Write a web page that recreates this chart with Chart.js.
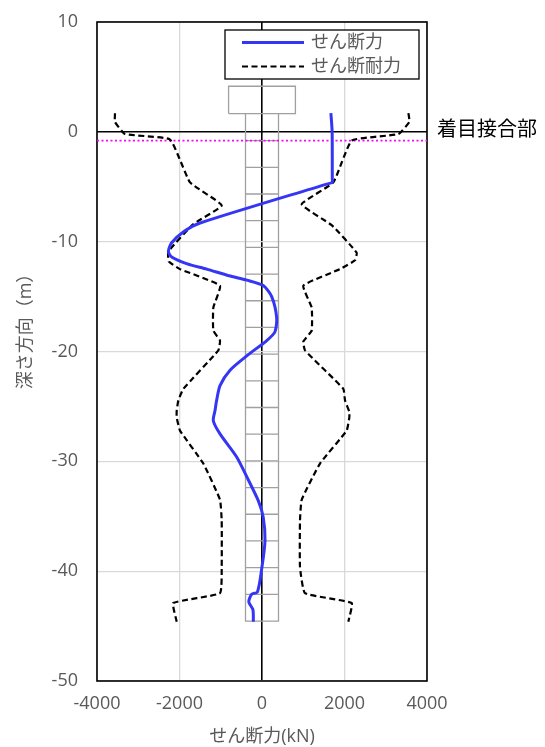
<!DOCTYPE html>
<html>
<head>
<meta charset="utf-8">
<script src="https://cdn.jsdelivr.net/npm/chart.js@4.4.1/dist/chart.umd.min.js"></script>
<style>
  html, body { margin: 0; padding: 0; background: #fff; }
  #wrap { width: 545px; height: 747px; position: relative; }
</style>
</head>
<body>
<div id="wrap"><canvas id="c"></canvas></div>
<script>
// Axis ranges
const xMin = -4000, xMax = 4000, xStep = 2000;
const yMin = -50, yMax = 10, yStep = 10;

// Shear force along the pile (kN) at each depth (m)
const shearDepth = [1.7, 0.0, -4.3, -4.6, -4.78, -8.3, -9.1, -10.1, -10.9, -11.4, -12.0, -12.5, -13.1, -13.5, -14.0,
  -15.0, -16.9, -18.2, -19.0, -20.4, -21.7, -23.1, -24.45, -25.4, -26.3, -27.5, -29.6, -31.4, -33.6,
  -35.1, -37.2, -39.6, -41.9, -42.1, -42.8, -43.5, -44.6];
const shearForce = [1670, 1700, 1704, 1705, 1550, -1500, -1900, -2190, -2270, -2190, -1830, -1340, -800, -370, 30,
  235, 355, 315, 115, -370, -775, -1018, -1100, -1140, -1180, -1018, -614, -370, -88,
  30, 73, 0, -110, -250, -320, -220, -210];

// Shear capacity envelope, negative side
const capLeftDepth = [1.7, 0.9, -0.2, -0.7, -4.6, -6.7, -8.4, -10.9, -11.8, -12.5, -14.0, -16.0, -18.1,
  -19.0, -19.9, -23.4, -24.45, -25.4, -26.0, -27.2, -30.2, -33.5, -35.4, -39.6, -42.0, -42.9, -44.6];
const capLeft = [-3564, -3564, -3321, -2230, -1745, -977, -1665, -2270, -2260, -1988, -1018, -1180, -1180,
  -1018, -1059, -1907, -2028, -2068, -2068, -1988, -1422, -1018, -977, -977, -1018, -2150, -2068];

// Shear capacity envelope, positive side
const capRightDepth = [1.7, 0.9, -0.2, -0.8, -4.6, -6.6, -8.5, -11.0, -11.7, -12.5, -14.0, -16.0, -18.1,
  -19.1, -19.9, -23.4, -24.45, -25.5, -26.0, -27.2, -30.2, -33.5, -35.4, -39.6, -42.0, -42.9, -44.6];
const capRight = [3550, 3572, 3305, 2174, 1730, 962, 1690, 2295, 2255, 1890, 1002, 1204, 1204,
  1002, 1042, 1972, 2012, 2117, 2117, 2053, 1406, 962, 921, 921, 1042, 2174, 2093];

// Pile schematic (kN-width / depth in m)
const pileHalfWidth = 400;
const pileHead = 1.66;
const pileTip = -44.55;
const pileJointDepths = [-0.8, -3.23, -5.66, -8.09, -10.52, -12.95, -15.38, -17.81, -20.24, -22.67,
  -25.1, -27.53, -29.96, -32.39, -34.82, -37.25, -39.68, -42.11];
const capHalfWidth = 810;
const capTopDepth = 4.15;

// Joint of interest
const focusDepth = -0.8;
const focusLabel = '着目接合部';

const seriesLabels = ['せん断力', 'せん断耐力'];
const xTitle = 'せん断力(kN)';
const yTitle = '深さ方向（m）';

const zip = (xs, ys) => xs.map((x, i) => ({ x: x, y: ys[i] }));
const GAP = { x: null, y: null };

// pile outline built as one broken polyline
const pileData = [];
pileData.push({ x: -pileHalfWidth, y: pileHead }, { x: -pileHalfWidth, y: pileTip },
  { x: pileHalfWidth, y: pileTip }, { x: pileHalfWidth, y: pileHead }, GAP);
pileJointDepths.forEach(d => pileData.push({ x: -pileHalfWidth, y: d }, { x: pileHalfWidth, y: d }, GAP));
pileData.push({ x: -capHalfWidth, y: pileHead }, { x: capHalfWidth, y: pileHead },
  { x: capHalfWidth, y: capTopDepth }, { x: -capHalfWidth, y: capTopDepth }, { x: -capHalfWidth, y: pileHead });

const FONT = "'Open Sans', 'Noto Sans CJK JP', sans-serif";
const GREY = '#595959';

const frame = {
  id: 'frame',
  beforeDatasetsDraw(chart) {
    const { ctx, chartArea: a } = chart;
    ctx.save();
    ctx.strokeStyle = '#000';
    ctx.lineWidth = 1.6;
    ctx.strokeRect(a.left, a.top, a.right - a.left, a.bottom - a.top);
    ctx.restore();
  }
};

const decorations = {
  id: 'decorations',
  afterDraw(chart) {
    const { ctx, chartArea: a, scales } = chart;
    ctx.save();
    // axis titles
    ctx.fillStyle = GREY;
    ctx.font = '18px ' + FONT;
    ctx.textAlign = 'center';
    ctx.textBaseline = 'middle';
    ctx.fillText(xTitle, scales.x.getPixelForValue(0), 737);
    ctx.save();
    ctx.translate(26, 327);
    ctx.rotate(-Math.PI / 2);
    ctx.fillText(yTitle, 0, 0);
    ctx.restore();

    // label for the joint of interest
    ctx.fillStyle = '#000';
    ctx.font = '20px ' + FONT;
    ctx.textAlign = 'left';
    ctx.fillText(focusLabel, a.right + 10, scales.y.getPixelForValue(0) - 2);

    // legend box
    const bx = 225, by = 30, bw = 194, bh = 49;
    ctx.fillStyle = '#fff';
    ctx.fillRect(bx, by, bw, bh);
    ctx.strokeStyle = '#000';
    ctx.lineWidth = 1.3;
    ctx.strokeRect(bx, by, bw, bh);
    const rows = [chart.data.datasets[0], chart.data.datasets[1]];
    rows.forEach((ds, i) => {
      const yy = by + 12.5 + i * 24;
      ctx.beginPath();
      ctx.strokeStyle = ds.borderColor;
      ctx.lineWidth = ds.borderWidth;
      ctx.setLineDash(ds.borderDash || []);
      ctx.moveTo(242, yy);
      ctx.lineTo(304, yy);
      ctx.stroke();
      ctx.setLineDash([]);
      ctx.fillStyle = GREY;
      ctx.font = '18px ' + FONT;
      ctx.textAlign = 'left';
      ctx.fillText(ds.label, 311, yy);
    });
    ctx.restore();
  }
};

const plainNumber = v => String(v);

new Chart(document.getElementById('c'), {
  type: 'scatter',
  data: {
    datasets: [
      {
        label: seriesLabels[0],
        data: zip(shearForce, shearDepth),
        showLine: true, borderColor: '#3535f5', borderWidth: 3, pointRadius: 0,
        tension: 0.25, order: 1
      },
      {
        label: seriesLabels[1],
        data: zip(capLeft, capLeftDepth),
        showLine: true, borderColor: '#000', borderWidth: 2.2, borderDash: [6, 3.5],
        pointRadius: 0, tension: 0.12, order: 2
      },
      {
        label: seriesLabels[1],
        data: zip(capRight, capRightDepth),
        showLine: true, borderColor: '#000', borderWidth: 2.2, borderDash: [6, 3.5],
        pointRadius: 0, tension: 0.12, order: 2
      },
      {
        label: 'pile',
        data: pileData,
        showLine: true, spanGaps: false, borderColor: '#a0a0a0', borderWidth: 1.3,
        pointRadius: 0, tension: 0, order: 4
      },
      {
        label: focusLabel,
        data: [{ x: xMin, y: focusDepth }, { x: xMax, y: focusDepth }],
        showLine: true, borderColor: '#ff00ff', borderWidth: 1.8, borderDash: [2, 2.5],
        pointRadius: 0, order: 3
      }
    ]
  },
  options: {
    responsive: true,
    maintainAspectRatio: false,
    animation: false,
    layout: { padding: { top: 22, right: 118, left: 0, bottom: 0 } },
    plugins: { legend: { display: false }, tooltip: { enabled: false } },
    scales: {
      x: {
        type: 'linear', min: xMin, max: xMax,
        afterFit: s => { s.height = 66; s.paddingLeft = 0; s.paddingRight = 0; },
        ticks: { stepSize: xStep, color: GREY, font: { family: FONT, size: 18 }, padding: 12, maxRotation: 0, callback: plainNumber },
        grid: {
          drawTicks: false,
          color: c => c.tick && c.tick.value === 0 ? '#000' : '#d9d9d9',
          lineWidth: c => c.tick && c.tick.value === 0 ? 1.6 : 1.3
        },
        border: { display: false }
      },
      y: {
        type: 'linear', min: yMin, max: yMax,
        afterFit: s => { s.width = 97; s.paddingTop = 0; s.paddingBottom = 0; },
        ticks: { stepSize: yStep, color: GREY, font: { family: FONT, size: 18 }, padding: 19, callback: plainNumber },
        grid: {
          drawTicks: false,
          color: c => c.tick && c.tick.value === 0 ? '#000' : '#d9d9d9',
          lineWidth: c => c.tick && c.tick.value === 0 ? 1.6 : 1.3
        },
        border: { display: false }
      }
    }
  },
  plugins: [frame, decorations]
});
</script>
</body>
</html>
